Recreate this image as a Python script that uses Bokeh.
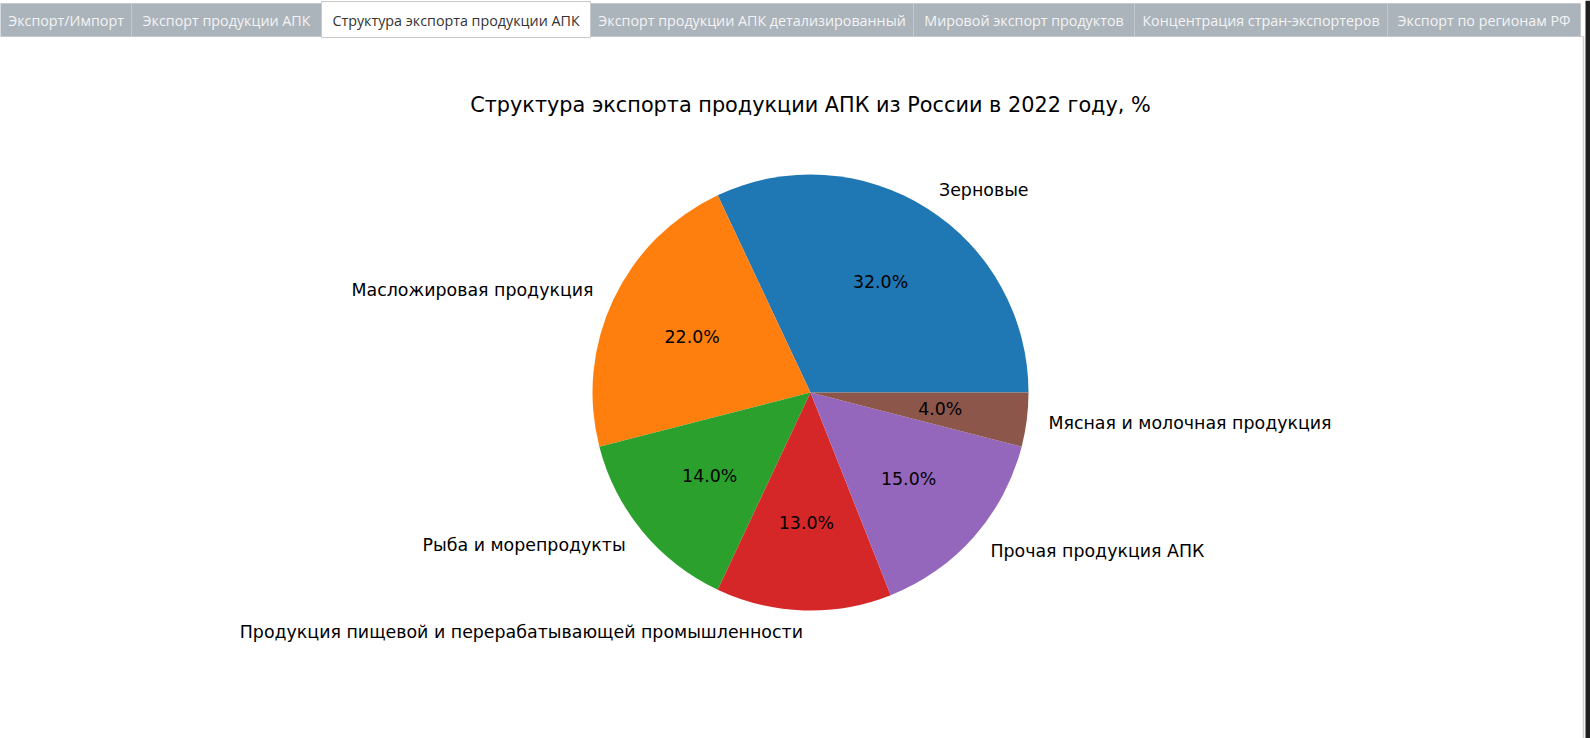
import numpy as np
from bokeh.plotting import figure
from bokeh.models import Range1d, ColumnDataSource
from bokeh.core.properties import value
from bokeh.embed import file_html
from bokeh.resources import INLINE

# ---- data ----
tab_labels = ["Экспорт/Импорт", "Экспорт продукции АПК", "Структура экспорта продукции АПК",
              "Экспорт продукции АПК детализированный", "Мировой экспорт продуктов",
              "Концентрация стран-экспортеров", "Экспорт по регионам РФ"]
active_tab = 2
title_text = "Структура экспорта продукции АПК из России в 2022 году, %"
categories = ["Зерновые", "Масложировая продукция", "Рыба и морепродукты",
              "Продукция пищевой и перерабатывающей промышленности",
              "Прочая продукция АПК", "Мясная и молочная продукция"]
shares = [32, 22, 14, 13, 15, 4]
colors = ["#1f77b4", "#ff7f0e", "#2ca02c", "#d62728", "#9467bd", "#8c564b"]

# ---- layout (screen px) ----
W, H = 1590, 738
tab_edges = [0, 131, 321, 590, 913, 1134, 1387, 1580]
cx, cy_screen, R = 810, 392, 218
cy = H - cy_screen

p = figure(width=W, height=H, x_range=Range1d(0, W), y_range=Range1d(0, H),
           output_backend="svg", toolbar_location=None, min_border=0)
p.axis.visible = False
p.grid.visible = False
p.outline_line_color = None
p.background_fill_color = "white"
p.border_fill_color = "white"

# ---- tabs ----
lefts = tab_edges[:-1]
rights = tab_edges[1:]
tops = [H - 1 if i == active_tab else H - 3 for i in range(len(tab_labels))]
bottoms = [H - 37 if i == active_tab else H - 36 for i in range(len(tab_labels))]
fills = ["#ffffff" if i == active_tab else "#abb3bb" for i in range(len(tab_labels))]
lines = ["#c8c8c8" if i == active_tab else "#c3c9cf" for i in range(len(tab_labels))]
tcol = ["#333333" if i == active_tab else "#f4f4f4" for i in range(len(tab_labels))]
tsrc = ColumnDataSource(dict(left=lefts, right=rights, top=tops, bottom=bottoms,
                             fill=fills, line=lines, label=tab_labels, tc=tcol,
                             x=[(a + b) / 2 for a, b in zip(lefts, rights)],
                             y=[H - 19.5] * len(tab_labels)))
p.quad(left="left", right="right", top="top", bottom="bottom", fill_color="fill",
       line_color="line", line_width=1, source=tsrc)
p.text(x="x", y="y", text="label", text_color="tc", text_align="center",
       text_baseline="middle", text_font=value("Open Sans"), text_font_size="14.3px",
       source=tsrc)
# panel border lines and dark right strip
p.segment(x0=[tab_edges[-1]], y0=[H - 36], x1=[1583], y1=[H - 36], line_color="#d0d0d0")
p.segment(x0=[1583], y0=[H - 36], x1=[1583], y1=[0], line_color="#cfcfcf", line_width=1.5)
p.quad(left=[1585], right=[W], top=[H], bottom=[0], fill_color="#1f1f1f", line_color=None)

# ---- title ----
p.text(x=[cx], y=[H - 104], text=[title_text], text_align="center", text_baseline="middle",
       text_font=value("DejaVu Sans"), text_font_size="20.8px", text_color="#000000")

# ---- pie ----
vals = np.array(shares, dtype=float)
frac = vals / vals.sum()
ends = np.cumsum(frac) * 2 * np.pi
starts = ends - frac * 2 * np.pi
mids = (starts + ends) / 2
psrc = ColumnDataSource(dict(start=starts, end=ends, color=colors))
p.wedge(x=cx, y=cy, radius=R, start_angle="start", end_angle="end",
        fill_color="color", line_color=None, source=psrc)

lx = cx + 1.1 * R * np.cos(mids)
ly = cy + 1.1 * R * np.sin(mids)
align = ["left" if np.cos(m) > 0 else "right" for m in mids]
lsrc = ColumnDataSource(dict(x=lx, y=ly, text=categories, align=align))
p.text(x="x", y="y", text="text", text_align="align", text_baseline="middle",
       text_font=value("DejaVu Sans"), text_font_size="17.4px", text_color="#000000",
       source=lsrc)

px = cx + 0.6 * R * np.cos(mids)
py = cy + 0.6 * R * np.sin(mids)
pct = [f"{v * 100:.1f}%" for v in frac]
ssrc = ColumnDataSource(dict(x=px, y=py, text=pct))
p.text(x="x", y="y", text="text", text_align="center", text_baseline="middle",
       text_font=value("DejaVu Sans"), text_font_size="17.4px", text_color="#000000",
       source=ssrc)

open("out.html", "w").write(file_html(p, INLINE))
